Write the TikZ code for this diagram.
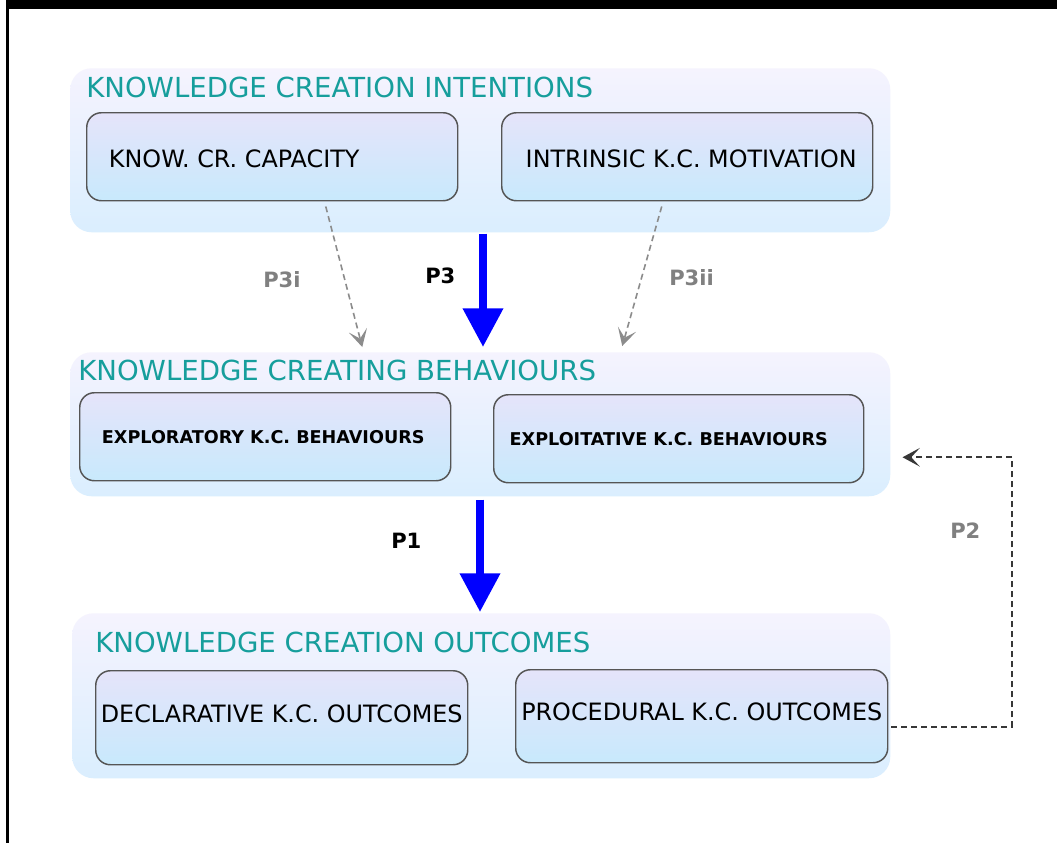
\documentclass[tikz,border=0pt]{standalone}
\usepackage{fontspec}
\setmainfont{DejaVu Sans}
\usetikzlibrary{arrows.meta,calc}
\definecolor{tealT}{RGB}{22,158,156}
\definecolor{grpTop}{RGB}{245,243,254}
\definecolor{grpBot}{RGB}{218,238,254}
\definecolor{boxTop}{RGB}{229,228,250}
\definecolor{boxBot}{RGB}{200,233,252}
\definecolor{boxLine}{RGB}{85,85,85}
\definecolor{lblGray}{RGB}{128,128,128}
\definecolor{arrGray}{RGB}{140,140,140}
\definecolor{arrDark}{RGB}{55,55,55}
\begin{document}
\begin{tikzpicture}[x=0.75pt,y=-0.75pt,
  grp/.style={rounded corners=16pt, top color=grpTop, bottom color=grpBot, draw=none, inner sep=0pt, anchor=north west},
  kbox/.style={rounded corners=11pt, draw=boxLine, line width=1.1pt, top color=boxTop, bottom color=boxBot, inner sep=0pt, anchor=north west, minimum width=278.25pt, minimum height=66pt},
  ktxtA/.style={font=\fontsize{17.9}{20}\selectfont, text height=16.5pt, text depth=0pt},
  ktxtB/.style={font=\bfseries\fontsize{13.2}{15}\selectfont, text height=10pt, text depth=0pt},
  ktxtC/.style={font=\fontsize{17.9}{20}\selectfont, text height=13pt, text depth=6pt},
  ttl/.style={anchor=base west, inner sep=0pt, text=tealT, font=\fontsize{20.7}{24}\selectfont},
  lbl/.style={anchor=base west, inner sep=0pt, font=\bfseries\fontsize{15.8}{18}\selectfont},
  bigarrow/.style={draw=blue, line width=6pt, -{Triangle[length=29pt,width=29pt]}},
  grayarrow/.style={draw=arrGray, line width=1.2pt, dash pattern=on 4.5pt off 3pt, -{Stealth[length=13pt,width=14pt,inset=6.5pt]}},
  darkarrow/.style={draw=arrDark, line width=1.2pt, dash pattern=on 4.5pt off 3pt, -{Stealth[length=13pt,width=14pt,inset=6.5pt]}}
]
\useasboundingbox (0,0) rectangle (1057,843);
\fill[white] (0,0) rectangle (1057,843);
% frame
\fill[black] (6,0) rectangle (1057,8.5);
\fill[black] (6,0) rectangle (8.5,843);

% groups
\node[grp, minimum width=615pt, minimum height=123pt] (g1) at (70,68) {};
\node[grp, minimum width=615pt, minimum height=108pt] (g2) at (70,352) {};
\node[grp, minimum width=613.5pt, minimum height=123.75pt] (g3) at (72,613) {};

% titles
\node[ttl] (t1) at (86,97) {KNOWLEDGE CREATION INTENTIONS};
\node[ttl] (t2) at (78,380) {KNOWLEDGE CREATING BEHAVIOURS};
\node[ttl] (t3) at (95,652) {KNOWLEDGE CREATION OUTCOMES};

% boxes
\node[kbox, ktxtA] (k1a) at (86,112) {KNOW. CR. CAPACITY\hspace*{57pt}};
\node[kbox, ktxtA] (k1b) at (501,112) {\hspace*{6pt}INTRINSIC K.C. MOTIVATION};
\node[kbox, ktxtB] (k2a) at (79,392) {EXPLORATORY K.C. BEHAVIOURS\hspace*{3pt}};
\node[kbox, ktxtB, minimum width=277.5pt] (k2b) at (493,394) {EXPLOITATIVE K.C. BEHAVIOURS\hspace*{15pt}};
\node[kbox, ktxtC, minimum width=279pt, minimum height=70.5pt] (k3a) at (95,670) {DECLARATIVE K.C. OUTCOMES};
\node[kbox, ktxtC, minimum width=279pt, minimum height=69.75pt] (k3b) at (515,669) {PROCEDURAL K.C. OUTCOMES};

% helper coordinates
\coordinate (p3x) at (483,0);
\coordinate (p1x) at (480,0);
\coordinate (p2x) at (1012,0);

% blue arrows
\draw[bigarrow] ($(g1.south -| p3x)+(0,1)$) -- ($(g2.north -| p3x)+(0,-5)$);
\draw[bigarrow] ($(g2.south -| p1x)+(0,3)$) -- ($(g3.north -| p1x)+(0,-1)$);

% gray dashed arrows
\draw[grayarrow] ($(k1a.south)+(53.5,5)$) -- ($(g2.north)+(-118,-5)$);
\draw[grayarrow] ($(k1b.south)+(-25.5,5)$) -- ($(g2.north)+(142,-6)$);

% feedback P2
\coordinate (p2s) at ($(k3b.east)+(3,10.5)$);
\coordinate (p2e) at ($(g2.east)+(12,33)$);
\draw[darkarrow] (p2s) -- (p2s -| p2x) -- (p2e -| p2x) -- (p2e);

% labels
\node[lbl, text=lblGray] (l3i) at (263,287) {P3i};
\node[lbl, text=black] (l3) at (425,283) {P3};
\node[lbl, text=lblGray] (l3ii) at (669,285) {P3ii};
\node[lbl, text=black] (l1) at (391,548) {P1};
\node[lbl, text=lblGray] (l2) at (950,538) {P2};
\end{tikzpicture}
\end{document}
